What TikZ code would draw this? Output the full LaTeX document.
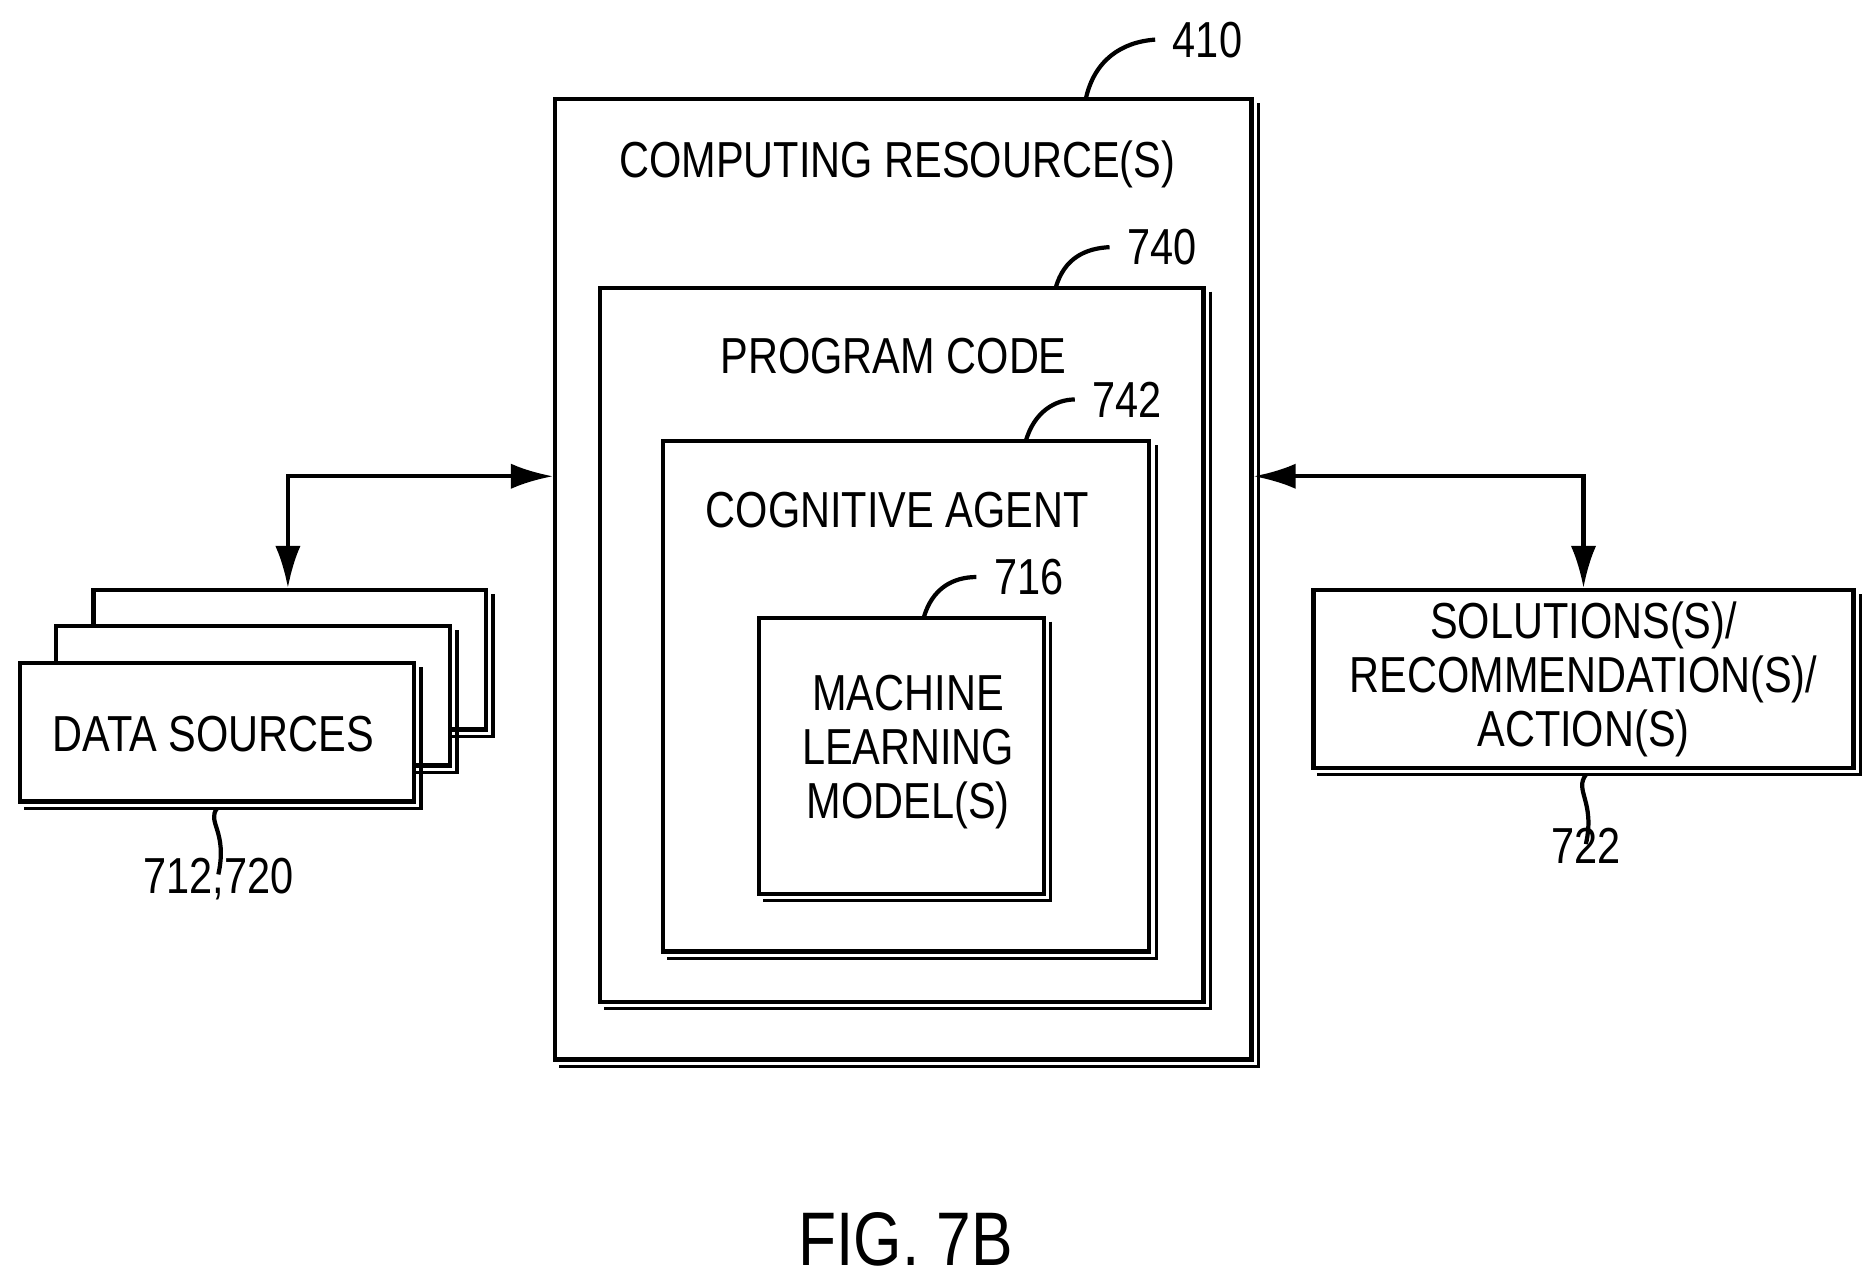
\documentclass[tikz,border=0pt]{standalone}
\usepackage{fontspec}
\setmainfont{Liberation Sans}[FakeStretch=0.82]
\usetikzlibrary{calc,arrows.meta}
\begin{document}
\begin{tikzpicture}[x=0.01cm,y=-0.01cm,
  box/.style={draw,line width=1pt,fill=white,inner sep=0pt},
  txt/.style={font=\fontsize{12}{12.8}\selectfont,align=center,inner sep=0pt},
  num/.style={font=\fontsize{12}{14}\selectfont,inner sep=0pt},
  lead/.style={line width=1pt},
  arr/.style={line width=1pt,{Latex[length=10pt,width=6pt]}-{Latex[length=10pt,width=6pt]}}]
\newcommand\shd[1]{\draw[line width=0.8pt] ($(#1.north east)+(4,5)$) -- ($(#1.south east)+(4,4)$) -- ($(#1.south west)+(5,4)$);}
\useasboundingbox (0,0) rectangle (1563,1066);
% boxes
\node[box,minimum width=5.8cm,minimum height=8cm] (cr) at (753,483) {};\shd{cr}
\node[box,minimum width=5.03cm,minimum height=5.95cm] (pc) at (751.5,537.5) {};\shd{pc}
\node[box,minimum width=4.05cm,minimum height=4.25cm] (ca) at (755.5,580.5) {};\shd{ca}
\node[box,minimum width=2.37cm,minimum height=2.3cm] (ml) at (751.5,630) {};\shd{ml}
\node[box,minimum width=3.27cm,minimum height=1.16cm] (ds3) at (241.5,550) {};\shd{ds3}
\node[box,minimum width=3.28cm,minimum height=1.16cm] (ds2) at (211,580) {};\shd{ds2}
\node[box,minimum width=3.28cm,minimum height=1.15cm] (ds1) at (181,610.5) {};\shd{ds1}
\node[box,minimum width=4.5cm,minimum height=1.48cm] (sol) at (1320,566) {};\shd{sol}
% texts
\node[txt] (t1) at (748,137) {COMPUTING RESOURCE(S)};
\node[txt] (t2) at (745,297) {PROGRAM CODE};
\node[txt] (t3) at (748,425) {COGNITIVE AGENT};
\node[txt] (t4) at (757,627) {MACHINE\\LEARNING\\MODEL(S)};
\node[txt] (t5) at (178,612) {DATA SOURCES};
\node[txt] (t6) at (1320,566) {SOLUTIONS(S)/\\RECOMMENDATION(S)/\\ACTION(S)};
\node[font=\fontsize{18}{20}\selectfont,inner sep=0pt] (fig) at (755,1033) {FIG. 7B};
% reference numbers
\node[num,anchor=west] (n410) at (977,33) {410};
\node[num,anchor=west] (n740) at (939,206) {740};
\node[num,anchor=west] (n742) at (910,333) {742};
\node[num,anchor=west] (n716) at (828,481) {716};
\node[num] (n712) at (182,733) {712,720};
\node[num] (n722) at (1322,705) {722};
\draw[lead] (905,83) .. controls (912,50) and (935,35) .. ([xshift=-4]n410.west);
\draw[lead] (880,240) .. controls (887,215) and (905,207) .. ([xshift=-4]n740.west);
\draw[lead] (855,368) .. controls (862,343) and (880,333) .. ([xshift=-4]n742.west);
\draw[lead] (770,515) .. controls (777,490) and (795,481) .. ([xshift=-4]n716.west);
\draw[lead] (ds1.south) ++(0,4) .. controls (172,685) and (190,693) .. ([yshift=-4]n712.north);
\draw[lead] (sol.south) ++(2,4) .. controls (1312,659) and (1330,668) .. ([yshift=-4]n722.north);
% connectors
\coordinate (l) at (240,397);
\coordinate (r) at (1320,397);
\draw[arr] (ds3.north -| l) -- (l) -- (cr.west |- l);
\draw[arr] (cr.east |- r) -- (r) -- (sol.north -| r);
\end{tikzpicture}
\end{document}
